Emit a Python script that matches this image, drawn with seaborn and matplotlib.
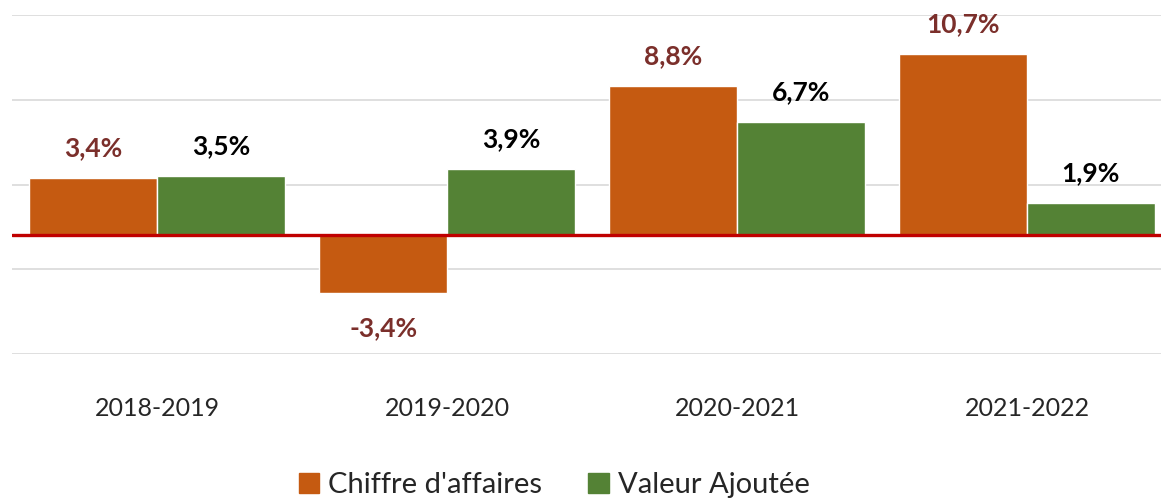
import pandas as pd
import matplotlib.pyplot as plt
import seaborn as sns

# Data
periods = ["2018-2019", "2019-2020", "2020-2021", "2021-2022"]
chiffre_affaires = [3.4, -3.4, 8.8, 10.7]
valeur_ajoutee = [3.5, 3.9, 6.7, 1.9]
series_names = ["Chiffre d'affaires", "Valeur Ajoutée"]

df = pd.DataFrame({
    "Période": periods * 2,
    "Valeur": chiffre_affaires + valeur_ajoutee,
    "Série": [series_names[0]] * 4 + [series_names[1]] * 4,
})

sns.set_style("white")
plt.rcParams["font.family"] = ["Lato", "DejaVu Sans"]

colors = ["#C55A11", "#548235"]
label_colors = ["#7B2F2B", "#000000"]

fig = plt.figure(figsize=(11.61, 5.01), dpi=100)
ax = fig.add_axes([12 / 1161, 147 / 501, 1149 / 1161, 339 / 501])

sns.barplot(data=df, x="Période", y="Valeur", hue="Série",
            palette=colors, width=0.88, saturation=1, ax=ax, legend=False)

# Axis styling: gridlines at Excel-like offsets
ax.set_ylim(-7, 13)
ax.set_xlim(-0.5, 3.5 - 11 / 290)
ax.set_yticks([-7, -2, 3, 8, 13])
ax.set_yticklabels([])
ax.yaxis.grid(True, color="#D9D9D9", linewidth=1.2)
ax.set_axisbelow(True)
ax.axhline(0, color="#C00000", linewidth=2.4, zorder=3)
sns.despine(ax=ax, left=True, bottom=True)
ax.set_xlabel("")
ax.set_ylabel("")
ax.tick_params(axis="x", length=0, pad=31, labelsize=18)
ax.tick_params(axis="y", length=0)

# Value labels
for i, container in enumerate(ax.containers):
    for bar, val in zip(container, [chiffre_affaires, valeur_ajoutee][i]):
        x = bar.get_x() + bar.get_width() / 2
        txt = f"{val:.1f}%".replace(".", ",")
        if val >= 0:
            ax.text(x, val + 1.75, txt, ha="center", va="center",
                    fontsize=19, fontweight="bold", color=label_colors[i])
        else:
            ax.text(x, val - 2.05, txt, ha="center", va="center",
                    fontsize=19, fontweight="bold", color=label_colors[i])

# Legend
handles = [plt.Rectangle((0, 0), 1, 1, color=c) for c in colors]
fig.legend(handles, series_names, loc="center", bbox_to_anchor=(554 / 1161, 1 - 485 / 501),
           ncol=2, frameon=False, fontsize=21, handlelength=0.7, handleheight=0.7,
           handletextpad=0.3, columnspacing=1.6)

plt.savefig("out.png", dpi=100)
